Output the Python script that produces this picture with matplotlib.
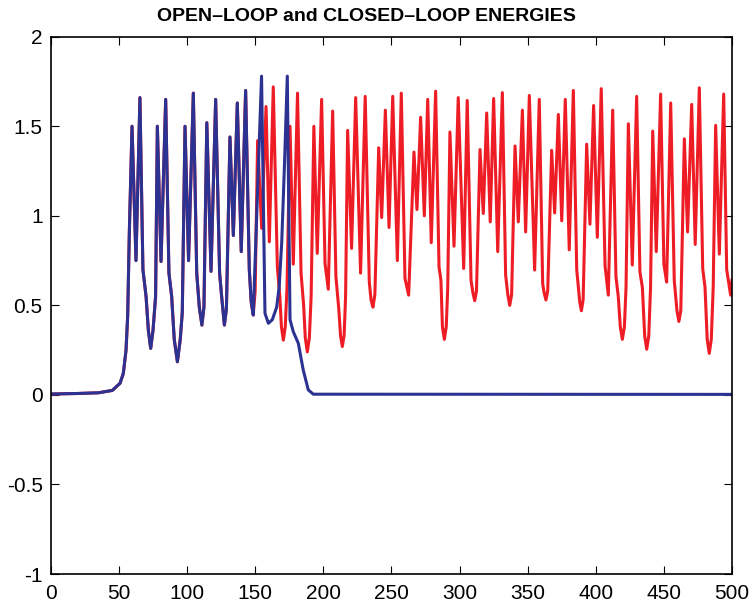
import numpy as np
import matplotlib
matplotlib.use("Agg")
import matplotlib.pyplot as plt

plt.rcParams['font.family'] = ['Liberation Sans', 'DejaVu Sans']
plt.rcParams['axes.unicode_minus'] = False

# shared part: both energies follow the same path until t ~ 148
t_common = [0, 20, 35, 45, 50.7, 53.1, 55.1, 56.3, 57.5, 59.5, 62.4, 65.3, 67.5, 69.8, 71.5, 73.2,
            74.9, 76.8, 78.1, 80.8, 84.2, 86.6, 88.6, 90.5, 92.8, 94.9, 96.4, 98.4, 101.0, 104.5,
            107.0, 108.9, 110.8, 112.3, 114.4, 117.5, 120.9, 123.8, 125.3, 127.3, 128.8, 131.4,
            133.9, 136.8, 139.7, 142.9, 145.6, 147.0, 148.5]
e_common = [0.005, 0.008, 0.012, 0.025, 0.065, 0.12, 0.25, 0.44, 0.9, 1.50, 0.75, 1.66, 0.70, 0.55, 0.36, 0.26,
            0.36, 0.55, 1.50, 0.745, 1.65, 0.68, 0.55, 0.31, 0.185, 0.31, 0.46, 1.50, 0.75, 1.685,
            0.68, 0.49, 0.39, 0.49, 1.52, 0.69, 1.65, 0.68, 0.55, 0.39, 0.48, 1.44,
            0.89, 1.63, 0.80, 1.70, 0.70, 0.52, 0.446]

# open-loop after the split
t_open = [149.9, 151.7, 154.7, 157.9, 160.3, 163.2, 166.2, 168.0, 169.2, 170.6, 172.0, 173.3, 175.5,
          177.9, 181.0, 183.6, 185.5, 186.7, 188.2, 189.7, 191.0, 193.0, 195.5, 198.7, 201.2, 203.6,
          206.8, 209.2, 211.3, 212.6, 213.9, 215.2, 216.3, 217.8, 220.7, 223.7, 227.3, 230.7, 233.7,
          235.0, 236.4, 237.8, 240.6, 242.8, 245.5, 248.2, 250.9, 254.3, 257.2, 259.9, 262.6, 266.5,
          268.7, 271.4, 274.1, 276.6, 279.2, 282.4, 284.9, 286.3, 287.4, 288.8, 290.2, 291.3, 292.9,
          295.9, 299.0, 303.0, 305.6, 308.4, 309.8, 311.1, 312.4, 315.0, 317.4, 319.9, 322.5, 325.0,
          328.0, 331.4, 333.8, 335.4, 336.8, 338.2, 340.7, 343.1, 346.1, 348.5, 351.2, 355.1, 358.5,
          361.0, 362.1, 363.4, 364.7, 367.6, 369.8, 372.5, 375.0, 377.6, 380.5, 383.5, 386.0, 388.2,
          389.4, 390.7, 393.3, 395.7, 398.4, 401.1, 404.0, 406.8, 409.2, 412.4, 414.8, 416.5, 418.0,
          419.5, 421.0, 422.2, 423.9, 426.8, 430.0, 432.4, 434.2, 435.9, 437.4, 438.9, 440.2, 441.8,
          444.4, 447.6, 450.0, 452.0, 455.0, 457.6, 459.6, 461.0, 462.4, 465.0, 467.4, 470.4, 473.0,
          476.0, 478.5, 480.2, 481.8, 483.3, 484.8, 486.2, 488.0, 490.7, 493.9, 496.1, 499.0, 500.0]
e_open = [0.58, 1.42, 0.93, 1.61, 0.855, 1.72, 0.715, 0.55, 0.38, 0.306, 0.38, 0.6, 1.50,
          0.73, 1.685, 0.68, 0.50, 0.32, 0.24, 0.32, 0.55, 1.50, 0.79, 1.65, 0.734, 0.59,
          1.585, 0.66, 0.48, 0.33, 0.27, 0.33, 0.55, 1.477, 0.818, 1.66, 0.68, 1.667, 0.63,
          0.53, 0.49, 0.56, 1.38, 0.99, 1.59, 0.935, 1.667, 0.75, 1.685, 0.65, 0.557, 1.356,
          1.035, 1.55, 1.0, 1.65, 0.85, 1.696, 0.715, 0.64, 0.38, 0.31, 0.38, 0.6, 1.468,
          0.83, 1.66, 0.706, 1.644, 0.64, 0.57, 0.526, 0.58, 1.37, 1.013, 1.574, 0.966, 1.655,
          0.80, 1.688, 0.67, 0.56, 0.50, 0.56, 1.39, 0.966, 1.59, 0.91, 1.672, 0.697, 1.65,
          0.62, 0.57, 0.53, 0.58, 1.366, 1.016, 1.566, 0.972, 1.65, 0.81, 1.70, 0.70, 0.52,
          0.47, 0.53, 1.40, 0.953, 1.616, 0.88, 1.71, 0.72, 0.557, 1.59, 0.66, 0.55, 0.38,
          0.31, 0.38, 0.6, 1.514, 0.725, 1.667, 0.687, 0.60, 0.33, 0.255, 0.33, 0.6, 1.473,
          0.80, 1.68, 0.73, 0.63, 1.63, 0.64, 0.47, 0.41, 0.47, 1.43, 0.91, 1.622, 0.84,
          1.715, 0.705, 0.60, 0.31, 0.232, 0.31, 0.6, 1.505, 0.786, 1.68, 0.70, 0.557, 0.64]

# closed-loop after the split, control kills the energy
t_closed = [154.6, 157.1, 159.6, 162.5, 165.7, 167.5, 169.4, 171.5, 173.5, 175.5, 177.9, 181.6,
            185.2, 188.9, 192.6, 500]
e_closed = [1.78, 0.456, 0.40, 0.42, 0.49, 0.60, 0.85, 1.3, 1.78, 0.42, 0.353, 0.288,
            0.139, 0.028, 0.004, 0.003]

xticks = list(range(0, 501, 50))
yticks = [-1, -0.5, 0, 0.5, 1, 1.5, 2]
ylabels = ['-1', '-0.5', '0', '0.5', '1', '1.5', '2']

fig = plt.figure(figsize=(7.52, 6.02), dpi=100)
ax = fig.add_axes([0.0678, 0.0465, 0.9056, 0.8925])

ax.plot(t_common + t_open, e_common + e_open, color='#ee1c25', lw=2.2)
ax.plot(t_common + t_closed, e_common + e_closed, color='#2b3292', lw=2.2)

ax.set_xlim(0, 500)
ax.set_ylim(-1, 2)
ax.set_xticks(xticks)
ax.set_yticks(yticks)
ax.set_yticklabels(ylabels)
ax.tick_params(direction='in', length=6, width=0.8, top=True, right=True, labelsize=15)
ax.tick_params(axis='x', pad=7)
ax.tick_params(axis='y', pad=6)
for s in ax.spines.values():
    s.set_linewidth(1.2)

ax.set_title('OPEN\u2013LOOP and CLOSED\u2013LOOP ENERGIES', fontsize=14, fontweight='bold',
             pad=11, x=0.463)

fig.savefig('out.png', dpi=100)
